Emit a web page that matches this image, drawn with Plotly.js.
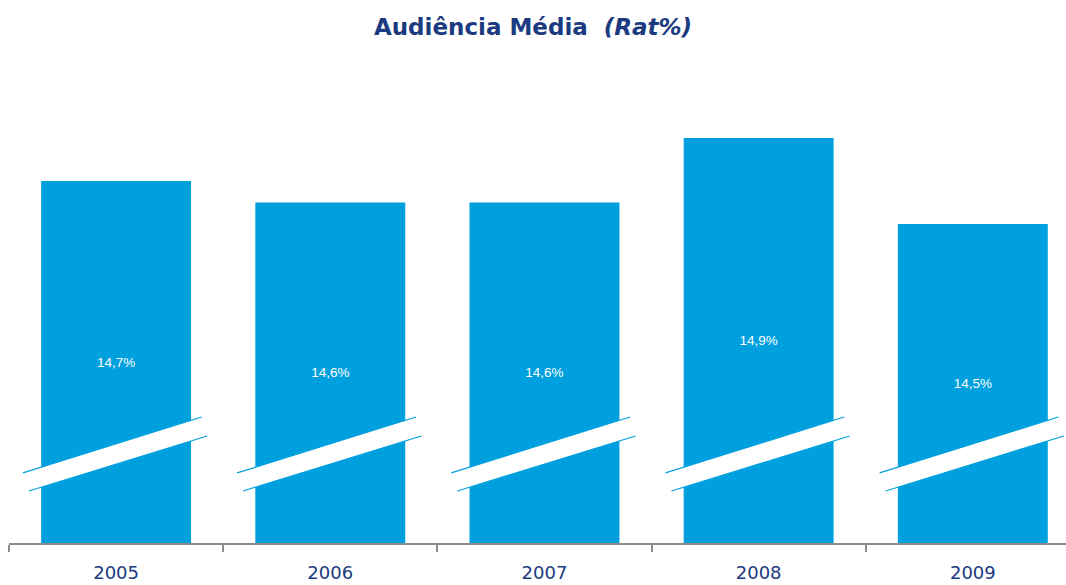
<!DOCTYPE html>
<html>
<head>
<meta charset="utf-8">
<script src="https://cdn.plot.ly/plotly-3.0.1.min.js"></script>
<style>
  html, body { margin: 0; padding: 0; background: #fff; }
  #chart { width: 1066px; height: 585px; }
</style>
</head>
<body>
<div id="chart"></div>
<script>
const years = ['2005', '2006', '2007', '2008', '2009'];
const ratings = [14.7, 14.6, 14.6, 14.9, 14.5];

const barColor = 'rgb(0,160,222)';
const navy = '#1b3a80';
const axisFloor = 13.016;   // the bars are cut, axis doesn't start at zero

const barTrace = {
    type: 'bar',
    x: years,
    y: ratings.map(v => v - axisFloor),
    base: axisFloor,
    customdata: ratings,
    texttemplate: '%{customdata:.1f}%',
    textposition: 'inside',
    insidetextanchor: 'middle',
    textangle: 0,
    textfont: { family: 'Liberation Sans, Arial, sans-serif', size: 13.5, color: '#ffffff' },
    marker: { color: barColor, line: { width: 0 } },
    hoverinfo: 'none',
};

// break marks: white band with thin blue edges across each bar
const breakShapes = [];
years.forEach((yr, i) => {
    breakShapes.push({
        type: 'path', xref: 'x', yref: 'y', layer: 'above',
        path: `M ${i - 0.435} 13.342 L ${i + 0.40} 13.602 L ${i + 0.425} 13.514 L ${i - 0.407} 13.258 Z`,
        fillcolor: '#ffffff',
        line: { width: 0 },
    });
    breakShapes.push({
        type: 'line', xref: 'x', yref: 'y', layer: 'above',
        x0: i - 0.435, y0: 13.342, x1: i + 0.40, y1: 13.602,
        line: { color: barColor, width: 1.2 },
    });
    breakShapes.push({
        type: 'line', xref: 'x', yref: 'y', layer: 'above',
        x0: i - 0.407, y0: 13.258, x1: i + 0.425, y1: 13.514,
        line: { color: barColor, width: 1.2 },
    });
});

const layout = {
    width: 1066,
    height: 585,
    margin: { l: 9, r: 0, t: 60, b: 42 },
    paper_bgcolor: '#ffffff',
    plot_bgcolor: '#ffffff',
    separators: ',.',
    showlegend: false,
    bargap: 0.3,
    title: {
        text: '<b>Audiência Média&nbsp;&nbsp;<i>(Rat%)</i></b>',
        font: { family: 'DejaVu Sans, Arial, sans-serif', size: 23, color: navy },
        x: 0.5, xanchor: 'center',
        y: 0.954, yref: 'container', yanchor: 'middle',
    },
    xaxis: {
        type: 'category',
        range: [-0.5, 4.435],
        showline: true,
        linecolor: '#8c8c8c',
        linewidth: 2,
        ticks: 'outside',
        tickson: 'boundaries',
        ticklen: 7,
        tickwidth: 2,
        tickcolor: '#8c8c8c',
        ticklabelstandoff: 12,
        tickfont: { family: 'DejaVu Sans, Arial, sans-serif', size: 18, color: navy },
        showgrid: false,
        zeroline: false,
        fixedrange: true,
    },
    yaxis: {
        range: [axisFloor, 15.263],
        visible: false,
        showgrid: false,
        zeroline: false,
        fixedrange: true,
    },
    shapes: breakShapes,
};

Plotly.newPlot('chart', [barTrace], layout, { displayModeBar: false, staticPlot: true });
</script>
</body>
</html>
